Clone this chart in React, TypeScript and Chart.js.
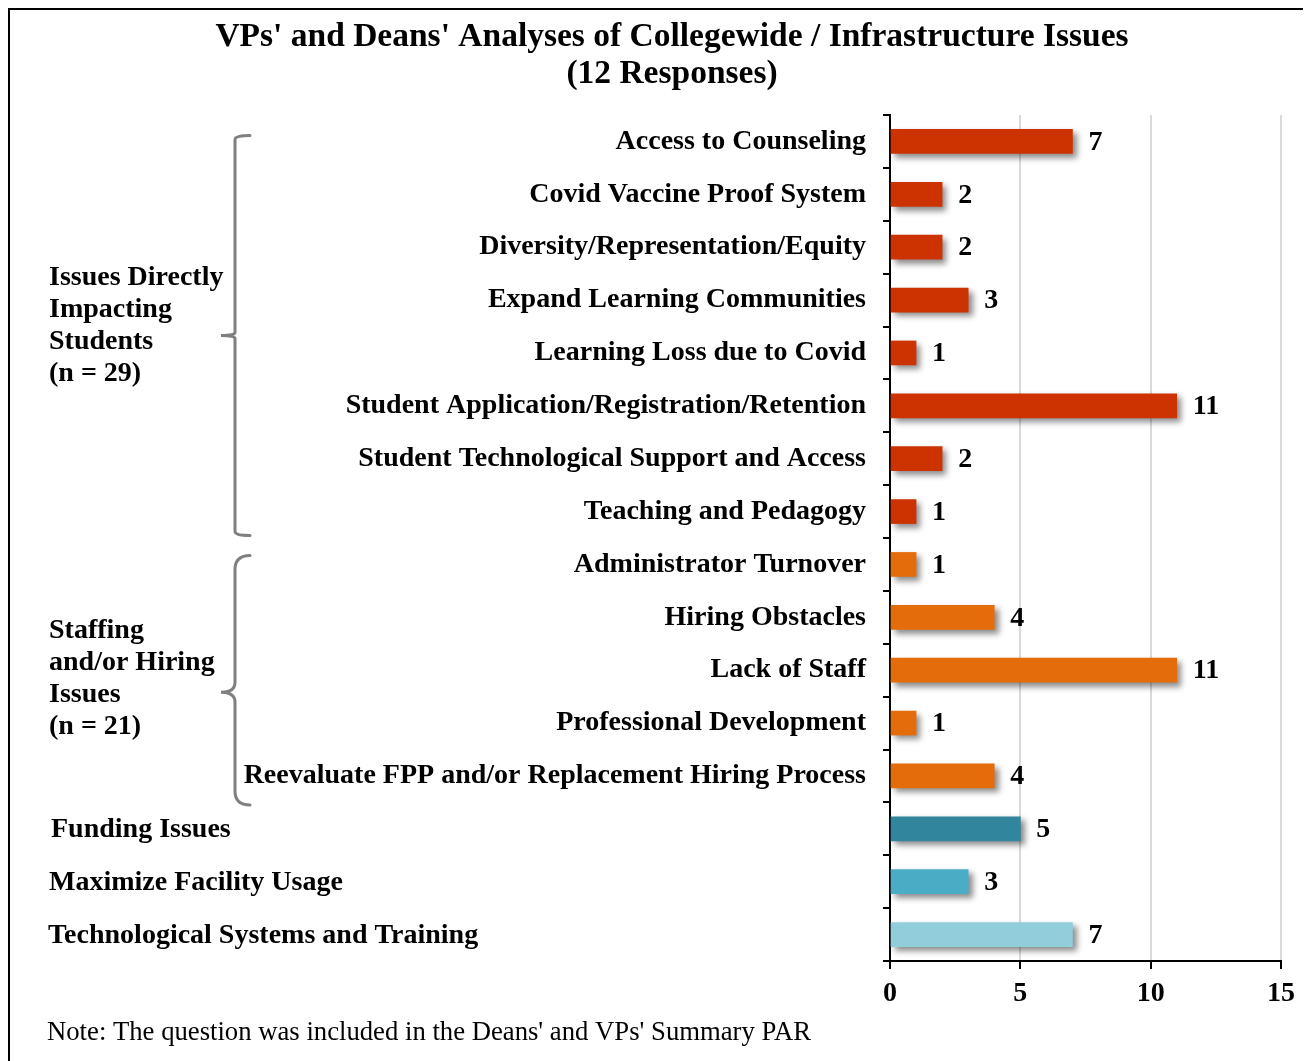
import React, { useEffect, useRef } from 'react';
import { Chart, registerables } from 'chart.js';
Chart.register(...registerables);

const titleLines = ["VPs' and Deans' Analyses of Collegewide / Infrastructure Issues", '(12 Responses)'];
const categories = [
  'Access to Counseling',
  'Covid Vaccine Proof System',
  'Diversity/Representation/Equity',
  'Expand Learning Communities',
  'Learning Loss due to Covid',
  'Student Application/Registration/Retention',
  'Student Technological Support and Access',
  'Teaching and Pedagogy',
  'Administrator Turnover',
  'Hiring Obstacles',
  'Lack of Staff',
  'Professional Development',
  'Reevaluate FPP and/or Replacement Hiring Process',
  'Funding Issues',
  'Maximize Facility Usage',
  'Technological Systems and Training',
];
const values = [7, 2, 2, 3, 1, 11, 2, 1, 1, 4, 11, 1, 4, 5, 3, 7];
const xTickValues = [0, 5, 10, 15];
const group1Lines = ['Issues Directly', 'Impacting', 'Students', '(n = 29)'];
const group2Lines = ['Staffing', 'and/or Hiring', 'Issues', '(n = 21)'];
const noteText = "Note: The question was included in the Deans' and VPs' Summary PAR";

const RED = '#CC3300';
const ORANGE = '#E46C0A';
const barColors = [
  RED, RED, RED, RED, RED, RED, RED, RED,
  ORANGE, ORANGE, ORANGE, ORANGE, ORANGE,
  '#31859C', '#4BACC6', '#92CDDC',
];

const FAMILY = '"Liberation Serif", "Times New Roman", serif';

const overlay = {
  id: 'overlay',
  beforeDatasetsDraw(chart: any) {
    const ctx = chart.ctx;
    ctx.save();
    ctx.shadowColor = 'rgba(0,0,0,0.45)';
    ctx.shadowBlur = 6;
    ctx.shadowOffsetX = 4;
    ctx.shadowOffsetY = 4;
  },
  afterDatasetsDraw(chart: any) {
    chart.ctx.restore();
  },
  afterDraw(chart: any) {
    const ctx = chart.ctx;
    const y = chart.scales.y;
    ctx.save();
    ctx.fillStyle = '#000';
    // title
    ctx.font = `bold 33.5px ${FAMILY}`;
    ctx.textAlign = 'center';
    ctx.textBaseline = 'middle';
    titleLines.forEach((t, i) => ctx.fillText(t, 662, 27 + i * 37));

    // value labels
    ctx.font = `bold 28px ${FAMILY}`;
    ctx.textAlign = 'left';
    const meta = chart.getDatasetMeta(0);
    meta.data.forEach((bar: any, i: number) => {
      ctx.fillText(String(values[i]), bar.x + 16, bar.y + 1);
    });

    // left aligned category labels
    const c = (i: number) => y.getPixelForValue(i);
    const lx = [41, 39, 38];
    for (let i = 13; i < categories.length; i++) {
      ctx.fillText(categories[i], lx[i - 13], c(i) + 1);
    }

    // group labels
    const g1Mid = (c(0) + c(7)) / 2 - 1;
    group1Lines.forEach((t, i) => ctx.fillText(t, 39, g1Mid + (i - 1.5) * 32));
    const g2Mid = c(10) + 9;
    group2Lines.forEach((t, i) => ctx.fillText(t, 39, g2Mid + (i - 1.5) * 32));

    // note
    ctx.font = `26.7px ${FAMILY}`;
    ctx.fillText(noteText, 37, 1023);

    // brackets
    ctx.strokeStyle = '#808080';
    ctx.lineWidth = 3;
    ctx.lineCap = 'round';
    const vx = 225, ax = 240, px = 211;
    const drawBrace = (top: number, bottom: number, tip: number, r: number, pr: number) => {
      ctx.beginPath();
      ctx.moveTo(ax, top);
      ctx.quadraticCurveTo(vx, top, vx, top + r);
      ctx.lineTo(vx, tip - pr);
      ctx.quadraticCurveTo(vx, tip, px, tip);
      ctx.quadraticCurveTo(vx, tip, vx, tip + pr);
      ctx.lineTo(vx, bottom - r);
      ctx.quadraticCurveTo(vx, bottom, ax, bottom);
      ctx.stroke();
    };
    const t1 = c(0) - 6, b1 = c(7) + 24;
    drawBrace(t1, b1, (t1 + b1) / 2, 4, 3);
    const t2 = c(8) - 9, b2 = c(12) + 29;
    drawBrace(t2, b2, c(10) + 22, 14, 10);
    ctx.restore();
  },
};

export default function App() {
  const ref = useRef<HTMLCanvasElement>(null);
  useEffect(() => {
    if (!ref.current) return;
    const chart = new Chart(ref.current, {
      type: 'bar',
      data: {
        labels: categories,
        datasets: [
          {
            data: values,
            backgroundColor: barColors,
            borderWidth: 0,
            barThickness: 24,
          },
        ],
      },
      options: {
        indexAxis: 'y',
        responsive: false,
        animation: false,
        layout: { padding: { top: 105, right: 54, bottom: 40, left: 0 } },
        plugins: {
          legend: { display: false },
          title: { display: false },
          tooltip: { enabled: false },
        },
        scales: {
          x: {
            min: 0,
            max: 15,
            afterBuildTicks: (s: any) => {
              s.ticks = xTickValues.map((v) => ({ value: v }));
            },
            ticks: {
              stepSize: 5,
              color: '#000',
              padding: 8,
              font: { family: FAMILY, size: 28, weight: 'bold' },
            },
            grid: { color: '#d9d9d9', lineWidth: 2, tickColor: '#000', tickLength: 8 },
            border: { color: '#000', width: 2 },
            afterFit: (s: any) => {
              s.height = 60;
            },
          },
          y: {
            ticks: {
              color: '#000',
              padding: 17,
              autoSkip: false,
              font: { family: FAMILY, size: 28, weight: 'bold' },
              callback: (_v: any, i: number) => (i < 13 ? categories[i] : ''),
            },
            grid: { drawOnChartArea: false, color: '#000', lineWidth: 2, tickLength: 7 },
            border: { color: '#000', width: 2 },
            afterFit: (s: any) => {
              s.width = 880;
            },
          },
        },
      },
      plugins: [overlay],
    });
    return () => chart.destroy();
  }, []);
  return (
    <div
      style={{
        width: 1303,
        height: 1053,
        boxSizing: 'border-box',
        borderLeft: '2px solid #000',
        borderTop: '2px solid #000',
        overflow: 'hidden',
        position: 'relative',
      }}
    >
      <canvas ref={ref} width={1325} height={1051} style={{ display: 'block' }} />
    </div>
  );
}
